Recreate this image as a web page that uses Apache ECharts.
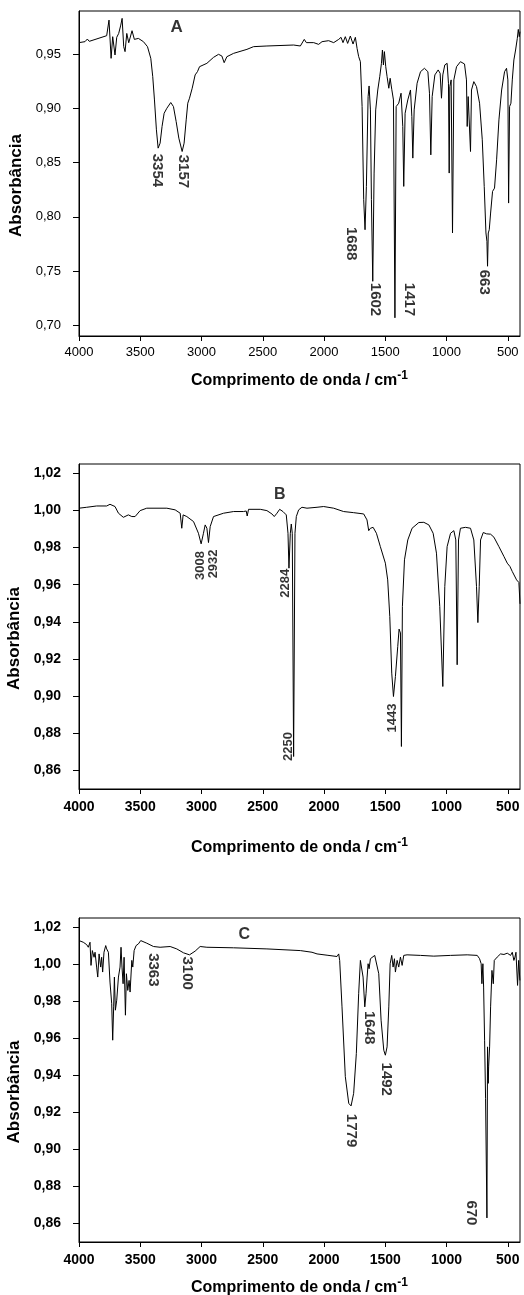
<!DOCTYPE html>
<html>
<head>
<meta charset="utf-8">
<script src="https://cdn.jsdelivr.net/npm/echarts@6/dist/echarts.min.js"></script>
<style>html,body{margin:0;padding:0;background:#fff}#c{width:524px;height:1295px}</style>
</head>
<body>
<div id="c"></div>
<script>
// ---------- DATA ----------
const xTickValues = [4000, 3500, 3000, 2500, 2000, 1500, 1000, 500];
const yTicksA = [0.70, 0.75, 0.80, 0.85, 0.90, 0.95];
const yTicksBC = [0.86, 0.88, 0.90, 0.92, 0.94, 0.96, 0.98, 1.00, 1.02];
const xTitle = 'Comprimento de onda / cm';
const xTitleSup = '-1';
const yTitle = 'Absorbância';

// Spectrum A: [wavenumber, absorbance]
const spectrumA = [
[4000,0.9608],[3951,0.9617],[3932,0.9641],[3916,0.9620],[3774,0.9672],[3755,0.9816],[3738,0.9463],[3725,0.9663],
[3706,0.9494],[3692,0.9657],[3676,0.9693],[3659,0.9770],[3648,0.9832],[3635,0.9571],[3624,0.9525],[3610,0.9693],
[3594,0.9607],[3567,0.9718],[3548,0.9638],[3515,0.9647],[3474,0.9617],[3441,0.9571],[3414,0.9463],[3398,0.9294],
[3384,0.9079],[3368,0.8803],[3354,0.8634],[3338,0.8680],[3322,0.8834],[3305,0.8956],[3283,0.9002],[3251,0.9055],
[3229,0.9018],[3207,0.8880],[3185,0.8726],[3158,0.8603],[3142,0.8680],[3125,0.8895],[3112,0.9049],[3098,0.9095],
[3076,0.9187],[3052,0.9310],[3033,0.9340],[3016,0.9386],[2956,0.9417],[2902,0.9472],[2861,0.9500],[2834,0.9485],
[2815,0.9423],[2793,0.9478],[2738,0.9509],[2629,0.9546],[2575,0.9571],[2466,0.9577],[2248,0.9586],[2193,0.9577],
[2180,0.9595],[2161,0.9638],[2144,0.9608],[2084,0.9608],[2044,0.9592],[2016,0.9617],[1962,0.9626],[1921,0.9608],
[1880,0.9638],[1861,0.9657],[1845,0.9608],[1826,0.9663],[1807,0.9601],[1785,0.9669],[1763,0.9595],[1744,0.9657],
[1730,0.9555],[1717,0.9479],[1703,0.9432],[1689,0.9018],[1676,0.8158],[1665,0.7881],[1654,0.8281],[1640,0.9110],
[1632,0.9208],[1621,0.8987],[1613,0.8158],[1602,0.7405],[1591,0.8404],[1578,0.8987],[1561,0.9171],[1545,0.9294],
[1531,0.9417],[1523,0.9540],[1515,0.9402],[1507,0.9525],[1496,0.9386],[1485,0.9294],[1471,0.9187],[1460,0.9279],
[1447,0.9178],[1433,0.9079],[1421,0.7068],[1411,0.9018],[1390,0.9049],[1371,0.9141],[1357,0.8834],[1349,0.8281],
[1338,0.8956],[1316,0.9079],[1294,0.9171],[1283,0.8926],[1275,0.8542],[1264,0.8987],[1240,0.9233],[1212,0.9340],
[1180,0.9371],[1152,0.9340],[1139,0.9141],[1128,0.8572],[1117,0.9110],[1095,0.9310],[1068,0.9356],[1052,0.9325],
[1041,0.9095],[1030,0.9310],[1014,0.9402],[995,0.9417],[984,0.9233],[978,0.8404],[973,0.9202],[962,0.9264],
[951,0.7851],[940,0.9264],[918,0.9386],[886,0.9432],[853,0.9411],[837,0.9264],[831,0.8834],[823,0.9110],
[815,0.9110],[804,0.8603],[796,0.9171],[777,0.9248],[755,0.9202],[730,0.9049],[708,0.8711],[692,0.8281],
[678,0.7851],[670,0.7774],[665,0.7544],[659,0.7851],[651,0.7881],[640,0.8035],[624,0.8235],[608,0.8265],
[591,0.8526],[572,0.8895],[550,0.9171],[526,0.9340],[510,0.9371],[499,0.9264],[493,0.8127],[485,0.9018],
[474,0.9049],[463,0.9264],[450,0.9448],[436,0.9540],[422,0.9647],[414,0.9730],[406,0.9663],[400,0.9709]
];

// Spectrum B
const spectrumB = [
[4000,1.0012],[3937,1.0017],[3856,1.0024],[3774,1.0024],[3747,1.0033],[3706,1.0021],[3678,0.9985],[3638,0.9963],
[3597,0.9976],[3569,0.9967],[3542,0.9967],[3501,0.9999],[3447,1.0012],[3283,1.0012],[3215,1.0003],[3174,0.9985],
[3161,0.9904],[3150,0.9976],[3120,0.9967],[3065,0.9940],[3025,0.9877],[3003,0.9820],[2984,0.9877],[2970,0.9922],
[2956,0.9904],[2943,0.9827],[2929,0.9913],[2902,0.9967],[2820,0.9985],[2738,0.9994],[2657,0.9994],[2635,0.9997],
[2627,0.9970],[2616,1.0006],[2520,1.0006],[2466,0.9999],[2425,0.9981],[2406,0.9967],[2384,0.9985],[2362,1.0006],
[2335,0.9994],[2308,0.9976],[2294,0.9877],[2286,0.9689],[2275,0.9877],[2267,0.9927],[2259,0.9877],[2248,0.8675],
[2237,0.9877],[2226,0.9967],[2207,1.0003],[2180,1.0017],[2139,1.0012],[2057,1.0017],[2003,1.0021],[1921,1.0012],
[1840,0.9994],[1758,0.9988],[1676,0.9981],[1649,0.9949],[1635,0.9891],[1621,0.9904],[1599,0.9909],[1572,0.9877],
[1540,0.9805],[1499,0.9716],[1480,0.9626],[1463,0.9429],[1447,0.9124],[1433,0.8998],[1417,0.9106],[1409,0.9110],
[1398,0.9267],[1387,0.9361],[1376,0.9340],[1368,0.8729],[1360,0.9483],[1343,0.9734],[1316,0.9841],[1281,0.9904],
[1226,0.9935],[1185,0.9936],[1144,0.9922],[1109,0.9877],[1082,0.9770],[1055,0.9483],[1030,0.9052],[1014,0.9590],
[995,0.9805],[967,0.9877],[940,0.9891],[924,0.9841],[913,0.9169],[902,0.9841],[886,0.9904],[845,0.9909],
[804,0.9904],[777,0.9841],[755,0.9590],[744,0.9396],[733,0.9590],[722,0.9841],[700,0.9881],[673,0.9874],
[640,0.9872],[613,0.9856],[572,0.9805],[531,0.9752],[504,0.9716],[482,0.9698],[463,0.9671],[450,0.9662],
[428,0.9626],[409,0.9612],[400,0.9497]
];

// Spectrum C
const spectrumC = [
[4000,1.0128],[3965,1.0119],[3937,1.0106],[3924,1.0092],[3910,1.0119],[3902,0.9994],[3891,1.0074],[3877,1.0038],
[3869,1.0065],[3856,0.9985],[3847,0.9931],[3836,1.0056],[3823,0.9985],[3815,1.0038],[3807,0.9958],[3796,1.0065],
[3782,1.0101],[3774,1.0083],[3760,1.0065],[3747,0.9904],[3733,0.9787],[3725,0.9590],[3717,0.9770],[3711,0.9931],
[3703,0.9752],[3692,0.9806],[3678,0.9931],[3665,0.9985],[3657,1.0092],[3649,0.9985],[3640,0.9895],[3632,1.0038],
[3621,0.9725],[3613,0.9949],[3602,0.9859],[3591,0.9913],[3583,0.9850],[3569,1.0021],[3561,0.9985],[3550,1.0074],
[3534,1.0101],[3515,1.0110],[3496,1.0128],[3480,1.0132],[3447,1.0114],[3392,1.0096],[3338,1.0092],[3256,1.0096],
[3202,1.0083],[3147,1.0062],[3098,1.0051],[3052,1.0071],[3011,1.0096],[2956,1.0092],[2738,1.0089],[2466,1.0083],
[2193,1.0074],[2098,1.0065],[2084,1.0071],[2057,1.0056],[1975,1.0049],[1894,1.0042],[1880,1.0056],[1872,1.0021],
[1853,0.9770],[1826,0.9393],[1798,0.9249],[1779,0.9235],[1758,0.9303],[1736,0.9518],[1717,0.9841],[1703,1.0021],
[1692,1.0012],[1681,0.9931],[1667,0.9770],[1657,0.9841],[1648,0.9931],[1640,1.0003],[1632,0.9976],[1621,1.0030],
[1608,1.0039],[1586,1.0048],[1572,1.0039],[1553,0.9949],[1534,0.9698],[1512,0.9536],[1499,0.9509],[1485,0.9554],
[1471,0.9770],[1460,1.0003],[1447,1.0048],[1436,0.9985],[1425,1.0030],[1417,0.9958],[1403,1.0021],[1390,0.9985],
[1376,1.0039],[1362,0.9994],[1349,1.0048],[1322,1.0051],[1213,1.0048],[1104,1.0044],[967,1.0048],[831,1.0051],
[749,1.0048],[730,1.0030],[717,1.0003],[711,0.9895],[703,1.0003],[697,0.9877],[689,0.9590],[681,0.9276],
[676,0.9285],[670,0.8630],[665,0.9554],[659,0.9357],[656,0.9446],[648,0.9554],[640,0.9770],[629,0.9967],
[618,0.9895],[610,1.0021],[586,1.0039],[559,1.0056],[531,1.0053],[504,1.0060],[477,1.0048],[463,1.0065],
[450,1.0021],[441,1.0039],[433,1.0065],[420,0.9886],[411,1.0021],[401,0.9913]
];

// Peak annotations: [wavenumber, absorbance, text]
const peaksA = [[3365,0.8428,'3354'],[3153,0.8419,'3157'],[1777,0.7753,'1688'],[1586,0.7237,'1602'],[1308,0.7237,'1417'],[689,0.7396,'663']];
const peaksB = [[3011,0.9703,'3008'],[2902,0.9712,'2932'],[2316,0.9608,'2284'],[2289,0.8729,'2250'],[1444,0.8882,'1443']];
const peaksC = [[3398,0.9970,'3363'],[3120,0.9952,'3100'],[1635,0.9658,'1648'],[1491,0.9379,'1492'],[1777,0.9102,'1779'],[802,0.8657,'670']];
const panelLetters = [[3202,0.975,'A'],[2362,1.0087,'B'],[2651,1.0159,'C']];

// ---------- CHART ----------
const FONT = '"Liberation Sans", Arial, Helvetica, sans-serif';
const fmt = v => v.toFixed(2).replace('.', ',');

const grids = [
  {left:79, top:11, width:441, height:325},
  {left:79, top:464, width:441, height:325},
  {left:79, top:918, width:441, height:324}
].map(g => Object.assign(g, {show:true, borderColor:'#000', borderWidth:1, containLabel:false, outerBoundsMode:'none'}));

const tickStyles = [
  {fontSize:13, fontWeight:'normal'},
  {fontSize:14, fontWeight:'bold'},
  {fontSize:14, fontWeight:'bold'}
];
const xNameGaps = [34, 48, 35];
const xLabelMargins = [10, 11, 11];

const xAxes = [0,1,2].map(i => ({
  gridIndex:i, type:'value', min:400, max:4000, inverse:true,
  axisLine:{show:true, onZero:false, lineStyle:{color:'#000', width:1}},
  axisTick:{show:true, length:5, customValues:xTickValues, lineStyle:{color:'#000', width:1}},
  axisLabel:{customValues:xTickValues, formatter:v => String(Math.round(v)), margin:xLabelMargins[i], color:'#000', fontFamily:FONT,
             fontSize:tickStyles[i].fontSize, fontWeight:tickStyles[i].fontWeight},
  splitLine:{show:false},
  name:'{t|' + xTitle + '}{s|' + xTitleSup + '}',
  nameLocation:'middle', nameGap:xNameGaps[i],
  nameTextStyle:{rich:{
    t:{fontSize:16, fontWeight:'bold', fontFamily:FONT, color:'#000', lineHeight:22},
    s:{fontSize:12, fontWeight:'bold', fontFamily:FONT, color:'#000', lineHeight:12, verticalAlign:'top'}
  }}
}));

const yRanges = [[0.69,0.99,yTicksA],[0.85,1.025,yTicksBC],[0.85,1.025,yTicksBC]];
const yNameGaps = [50, 53, 47];
const yAxes = [0,1,2].map(i => ({
  gridIndex:i, type:'value', min:yRanges[i][0], max:yRanges[i][1],
  axisLine:{show:true, onZero:false, lineStyle:{color:'#000', width:1}},
  axisTick:{show:true, length:6, customValues:yRanges[i][2], lineStyle:{color:'#000', width:1}},
  axisLabel:{customValues:yRanges[i][2], formatter:fmt, margin:18, color:'#000', fontFamily:FONT,
             fontSize:tickStyles[i].fontSize, fontWeight:tickStyles[i].fontWeight},
  splitLine:{show:false},
  name:yTitle, nameLocation:'middle', nameGap:yNameGaps[i],
  nameTextStyle:{fontSize:17, fontWeight:'bold', fontFamily:FONT, color:'#000', padding:[0,24,0,0]}
}));

const specs = [spectrumA, spectrumB, spectrumC];
const lineSeries = specs.map((d,i) => ({
  type:'line', xAxisIndex:i, yAxisIndex:i, data:d, showSymbol:false, symbol:'none',
  lineStyle:{color:'#000', width:1}, animation:false, silent:true, clip:true
}));

function labelSeries(i, data, rotate, size) {
  return {
    type:'scatter', xAxisIndex:i, yAxisIndex:i, data:data, symbolSize:2, silent:true, animation:false,
    itemStyle:{color:'rgba(0,0,0,0)'}, z:5,
    label:{show:true, position:'inside', rotate:rotate, formatter:p => p.data[2],
           color:'#000', fontFamily:FONT, fontWeight:'bold', fontSize:size, align:'center', verticalAlign:'middle'},
    labelLayout:{hideOverlap:false}
  };
}

const option = {
  animation:false,
  backgroundColor:'#fff',
  grid:grids, xAxis:xAxes, yAxis:yAxes,
  series:[
    ...lineSeries,
    labelSeries(0, peaksA, -90, 15),
    labelSeries(1, peaksB, 90, 13),
    labelSeries(2, peaksC, -90, 15),
    labelSeries(0, [panelLetters[0]], 0, 17),
    labelSeries(1, [panelLetters[1]], 0, 16),
    labelSeries(2, [panelLetters[2]], 0, 16)
  ]
};

const chart = echarts.init(document.getElementById('c'), null, {renderer:'canvas'});
chart.setOption(option);
</script>
</body>
</html>
